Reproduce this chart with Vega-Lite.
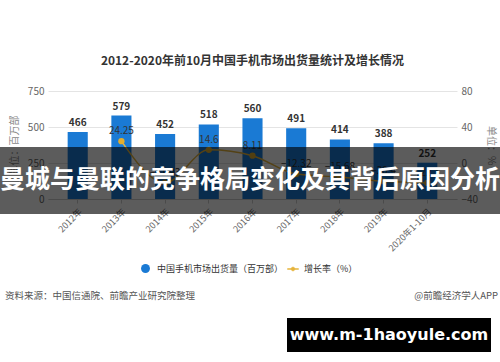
{
  "$schema": "https://vega.github.io/schema/vega-lite/v6.json",
  "width": 409,
  "height": 108,
  "autosize": {"type": "none"},
  "padding": {"left": 48, "top": 91, "right": 43, "bottom": 163},
  "background": "white",
  "config": {
    "font": "Noto Sans CJK SC",
    "view": {"stroke": null},
    "legend": {"padding": 0}
  },
  "title": {
    "text": "2012-2020年前10月中国手机市场出货量统计及增长情况",
    "fontSize": 12,
    "fontWeight": "bold",
    "color": "#333333",
    "anchor": "middle",
    "offset": 18
  },
  "data": {
    "values": [
      {"year": "2012年", "shipments": 466, "growth": null},
      {"year": "2013年", "shipments": 579, "growth": 24.25},
      {"year": "2014年", "shipments": 452, "growth": -21.93},
      {"year": "2015年", "shipments": 518, "growth": 14.6},
      {"year": "2016年", "shipments": 560, "growth": 8.11},
      {"year": "2017年", "shipments": 491, "growth": -12.32},
      {"year": "2018年", "shipments": 414, "growth": -15.68},
      {"year": "2019年", "shipments": 388, "growth": -20.4},
      {"year": "2020年1-10月", "shipments": 252, "growth": -22.1}
    ]
  },
  "resolve": {"scale": {"y": "independent"}},
  "layer": [
    {
      "encoding": {
        "x": {
          "field": "year", "type": "nominal", "sort": null, "title": null,
          "scale": {"paddingInner": 0.54, "paddingOuter": 0.45},
          "axis": {"labelAngle": -45, "labelFontSize": 9, "labelColor": "#666666", "domainColor": "#cccccc", "tickColor": "#cccccc", "tickSize": 4, "labelPadding": 4}
        },
        "y": {
          "field": "shipments", "type": "quantitative",
          "scale": {"domain": [0, 750]},
          "axis": {"values": [0, 250, 500, 750], "grid": true, "gridColor": "#e4e4e4", "domain": false, "ticks": false, "labelColor": "#666666", "labelFontSize": 10, "labelPadding": 4, "title": "单位：百万部", "titleFontWeight": "normal", "titleFontSize": 10, "titleColor": "#888888", "titlePadding": 8}
        }
      },
      "layer": [
        {
          "mark": {"type": "bar"},
          "encoding": {
            "color": {
              "datum": "中国手机市场出货量（百万部）",
              "scale": {"range": ["#1a7ad4"]},
              "legend": {"orient": "none", "legendX": 92, "legendY": 172, "title": null, "symbolType": "circle", "symbolSize": 80, "labelFontSize": 9, "labelColor": "#333333", "labelOffset": 6}
            }
          }
        },
        {
          "mark": {"type": "text", "baseline": "bottom", "dy": -4, "fontSize": 10, "fontWeight": "bold", "color": "#333333"},
          "encoding": {"text": {"field": "shipments", "type": "quantitative"}}
        }
      ]
    },
    {
      "transform": [{"filter": "datum.growth != null"}],
      "encoding": {
        "x": {"field": "year", "type": "nominal", "sort": null, "title": null},
        "y": {
          "field": "growth", "type": "quantitative",
          "scale": {"domain": [-40, 80]},
          "axis": {"orient": "right", "values": [-40, 0, 40, 80], "grid": false, "domain": false, "ticks": false, "labelColor": "#666666", "labelFontSize": 10, "labelPadding": 4, "title": "单位：%", "titleFontWeight": "normal", "titleFontSize": 10, "titleColor": "#888888", "titlePadding": 8}
        }
      },
      "layer": [
        {
          "mark": {"type": "line", "interpolate": "monotone", "strokeWidth": 1.5},
          "encoding": {
            "stroke": {
              "datum": "增长率（%）",
              "scale": {"range": ["#E6B43C"]},
              "legend": {"orient": "none", "legendX": 239, "legendY": 172, "title": null, "symbolType": "M-1,-0.08H1V0.08H-1Z M0.35,0A0.35,0.35 0 1,1 -0.35,0A0.35,0.35 0 1,1 0.35,0Z", "symbolFillColor": "#E6B43C", "symbolStrokeWidth": 0.5, "symbolSize": 120, "labelFontSize": 9, "labelColor": "#333333", "labelOffset": 5}
            }
          }
        },
        {
          "mark": {"type": "circle", "size": 40, "color": "#E2AE2E", "opacity": 1}
        },
        {
          "mark": {"type": "text", "baseline": "middle", "dy": -10, "fontSize": 10, "color": "#333333"},
          "encoding": {"text": {"field": "growth", "type": "quantitative"}}
        }
      ]
    },
    {
      "data": {"values": [{"note": "banner"}]},
      "mark": {"type": "rect", "color": "#000000", "opacity": 0.64},
      "encoding": {"x": {"value": -48}, "x2": {"value": 452}, "y": {"value": 56}, "y2": {"value": 123}}
    },
    {
      "data": {"values": [{"note": "banner"}]},
      "mark": {"type": "text", "text": "曼城与曼联的竞争格局变化及其背后原因分析", "fontSize": 25, "fontWeight": "bold", "color": "#ffffff", "align": "center", "baseline": "middle"},
      "encoding": {"x": {"value": 202}, "y": {"value": 89}}
    },
    {
      "data": {"values": [{"note": "source"}]},
      "mark": {"type": "text", "text": "资料来源：中国信通院、前瞻产业研究院整理", "fontSize": 9.5, "color": "#555555", "align": "left", "baseline": "middle"},
      "encoding": {"x": {"value": -43}, "y": {"value": 205}}
    },
    {
      "data": {"values": [{"note": "credit"}]},
      "mark": {"type": "text", "text": "@前瞻经济学人APP", "fontSize": 9.5, "color": "#555555", "align": "right", "baseline": "middle"},
      "encoding": {"x": {"value": 450}, "y": {"value": 205}}
    },
    {
      "data": {"values": [{"note": "site"}]},
      "mark": {"type": "rect", "color": "#000000"},
      "encoding": {"x": {"value": 239}, "x2": {"value": 443}, "y": {"value": 227}, "y2": {"value": 261}}
    },
    {
      "data": {"values": [{"note": "site"}]},
      "mark": {"type": "text", "text": "www.m-1haoyule.com", "font": "DejaVu Sans", "fontSize": 16, "fontWeight": "bold", "color": "#ffffff", "align": "center", "baseline": "middle"},
      "encoding": {"x": {"value": 341}, "y": {"value": 244}}
    }
  ]
}
